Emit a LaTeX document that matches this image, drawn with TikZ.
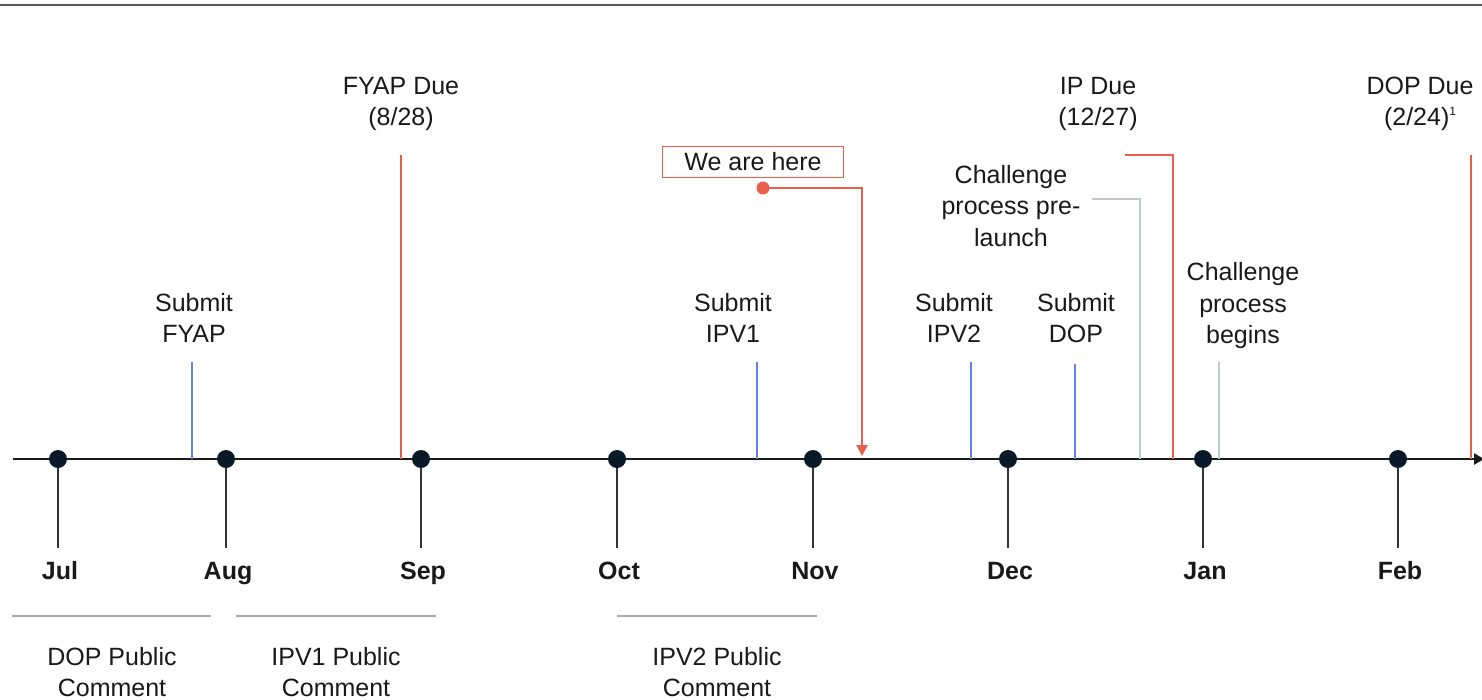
\documentclass[tikz,border=0pt]{standalone}
\usepackage{fontspec}
\setmainfont{Liberation Sans}
\usetikzlibrary{arrows.meta}
\definecolor{evred}{RGB}{232,96,76}
\definecolor{evblue}{RGB}{100,130,230}
\definecolor{evgray}{RGB}{190,200,215}
\definecolor{barGray}{RGB}{170,170,170}
\definecolor{topGray}{RGB}{90,90,90}
\definecolor{dotNavy}{RGB}{10,25,40}
\definecolor{txt}{RGB}{25,25,25}
\begin{document}
\begin{tikzpicture}[x=1pt,y=-1pt,
  lbl/.style={align=center,text=txt,inner sep=0pt,font=\fontsize{25}{31.5}\selectfont},
  mon/.style={text=txt,inner sep=0pt,anchor=base,font=\fontsize{25}{30}\selectfont\bfseries},
  monthdot/.style={circle,fill=dotNavy,inner sep=0pt,minimum size=18pt},
  tickline/.style={draw=black!80,line width=2.2pt},
  blueline/.style={draw=evblue,line width=2.2pt},
  redline/.style={draw=evred,line width=2.2pt},
  grayline/.style={draw=evgray,line width=2.2pt},
  barline/.style={draw=barGray,line width=2.2pt}
]
\useasboundingbox (0,0) rectangle (1482,699);
% top rule
\coordinate (topL) at (0,5);
\coordinate (topR) at (1482,5);
\draw[topGray,line width=2.2pt] (topL) -- (topR);
% axis
\coordinate (axL) at (13,459);
\coordinate (axR) at (1484,459);
\draw[black!90,line width=2.8pt,-{Triangle[width=11pt,length=10pt]}] (axL) -- (axR);
% months
\foreach \n/\x/\m in {jul/58/Jul,aug/226/Aug,sep/421/Sep,oct/617/Oct,nov/813/Nov,dec/1008/Dec,jan/1203/Jan,feb/1398/Feb}{
  \coordinate (\n t) at (\x,548);
  \draw[tickline] (\x,459) -- (\n t);
  \node[monthdot] (\n) at (\x,459) {};
  \node[mon] (\n l) at (\x+2,579) {\m};
}
% bottom bars
\coordinate (b1a) at (12,616); \coordinate (b1b) at (211,616);
\coordinate (b2a) at (236,616); \coordinate (b2b) at (436,616);
\coordinate (b3a) at (617,616); \coordinate (b3b) at (817,616);
\draw[barline] (b1a) -- (b1b);
\draw[barline] (b2a) -- (b2b);
\draw[barline] (b3a) -- (b3b);
\node[lbl] (dopc) at (112,672) {DOP Public\\Comment};
\node[lbl] (ipv1c) at (336,672) {IPV1 Public\\Comment};
\node[lbl] (ipv2c) at (717,672) {IPV2 Public\\Comment};
% events
\node[lbl] (sfyap) at (194,318) {Submit\\FYAP};
\coordinate (sfyapT) at (192,362); \coordinate (sfyapB) at (192,459);
\draw[blueline] (sfyapT) -- (sfyapB);

\node[lbl] (fyapd) at (401,104) {FYAP Due\\(8/28)};
\coordinate (fyapT) at (401,155); \coordinate (fyapB) at (401,459);
\draw[redline] (fyapT) -- (fyapB);

\node[lbl] (sipv1) at (733,318) {Submit\\IPV1};
\coordinate (sipv1T) at (757,362); \coordinate (sipv1B) at (757,459);
\draw[blueline] (sipv1T) -- (sipv1B);

\node[lbl,draw=evred,line width=1.8pt,minimum width=181pt,minimum height=31pt] (here) at (753,162) {We are here};
\coordinate (hereS) at (763,188); \coordinate (hereC) at (862,188); \coordinate (hereE) at (862,456);
\draw[evred,line width=2.2pt,-{Triangle[width=11pt,length=11pt]}] (hereS) -- (hereC) -- (hereE);
\fill[evred] (hereS) circle (6.5pt);

\node[lbl] (sipv2) at (954,318) {Submit\\IPV2};
\coordinate (sipv2T) at (971,362); \coordinate (sipv2B) at (971,459);
\draw[blueline] (sipv2T) -- (sipv2B);

\node[lbl] (sdop) at (1076,318) {Submit\\DOP};
\coordinate (sdopT) at (1075,364); \coordinate (sdopB) at (1075,459);
\draw[blueline] (sdopT) -- (sdopB);

\node[lbl] (cpre) at (1011,206) {Challenge\\process pre-\\launch};
\coordinate (cpreA) at (1092,199); \coordinate (cpreC) at (1140,199); \coordinate (cpreB) at (1140,459);
\draw[grayline] (cpreA) -- (cpreC) -- (cpreB);

\node[lbl] (ipd) at (1098,104) {IP Due\\(12/27)};
\coordinate (ipA) at (1125,155); \coordinate (ipC) at (1173,155); \coordinate (ipB) at (1173,459);
\draw[redline] (ipA) -- (ipC) -- (ipB);

\node[lbl] (cbeg) at (1243,306) {Challenge\\process\\begins};
\coordinate (cbegT) at (1219,362); \coordinate (cbegB) at (1219,459);
\draw[grayline] (cbegT) -- (cbegB);

\node[lbl] (dopd) at (1420,104) {DOP Due\\(2/24)\raisebox{0.42em}{\fontsize{12}{12}\selectfont 1}};
\coordinate (dopT) at (1471,155); \coordinate (dopB) at (1471,459);
\draw[redline] (dopT) -- (dopB);
\end{tikzpicture}
\end{document}
